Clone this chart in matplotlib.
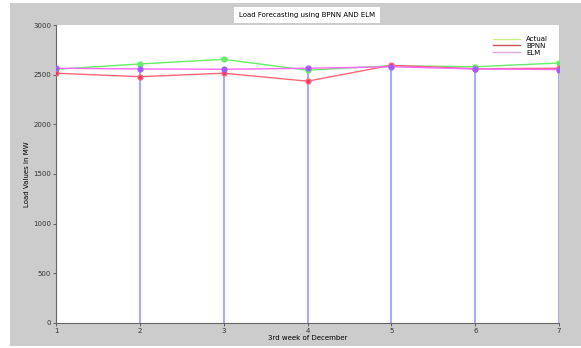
import matplotlib.pyplot as plt
from matplotlib.lines import Line2D
from matplotlib.patches import Rectangle

days = [1, 2, 3, 4, 5, 6, 7]
actual = [2555, 2608, 2655, 2545, 2590, 2580, 2618]
bpnn = [2515, 2480, 2515, 2435, 2595, 2560, 2565]
elm = [2565, 2558, 2555, 2565, 2580, 2558, 2552]

fig = plt.figure(figsize=(5.81, 3.48), dpi=100, facecolor='white')
# grey window background like the MATLAB figure
fig.patches.append(Rectangle((0.018, 0.005), 0.982, 0.985, transform=fig.transFigure,
                             facecolor='#cccccc', edgecolor='none', zorder=-10))

ax = fig.add_axes([0.0964, 0.072, 0.866, 0.856])
ax.set_facecolor('white')

# stems
ax.vlines(days, 0, elm, color='#aaaaff', linewidth=1.5, zorder=1)

ax.plot(days, actual, '-o', color='#66ee66', markersize=3.5, linewidth=1, zorder=3)
ax.plot(days, bpnn, '-o', color='#ff6677', markerfacecolor='#ee3366', markersize=3.5,
        linewidth=1, zorder=3)
ax.plot(days, elm, '-o', color='#ff66ff', markeredgecolor='#9966ff', markerfacecolor='#aa55ff',
        markersize=3.5, linewidth=1, zorder=4)

ax.set_xlim(1, 7)
ax.set_ylim(0, 3000)
ax.set_xticks(days)
ax.set_yticks(range(0, 3001, 500))
ax.tick_params(labelsize=5, length=2, width=0.5, pad=1.5, colors='#333333')
for s in ax.spines.values():
    s.set_color('#666666')
    s.set_linewidth(0.8)
ax.spines['top'].set_visible(False)
ax.spines['right'].set_visible(False)

ax.set_xlabel('3rd week of December', fontsize=5, labelpad=1)
ax.set_ylabel('Load Values in MW', fontsize=5, labelpad=2)

handles = [Line2D([], [], color='#ccee88', lw=1),
           Line2D([], [], color='#cc5555', lw=1),
           Line2D([], [], color='#ddaadd', lw=1)]
ax.legend(handles, ['Actual', 'BPNN', 'ELM'], loc='upper right', frameon=False,
          fontsize=5, handlelength=4, labelspacing=0.1, borderaxespad=1.2)

fig.text(0.528, 0.957, 'Load Forecasting using BPNN AND ELM', ha='center', va='center',
         fontsize=5, bbox=dict(facecolor='white', edgecolor='none', pad=3.5))

fig.savefig('out.png', dpi=100, facecolor=fig.get_facecolor())
